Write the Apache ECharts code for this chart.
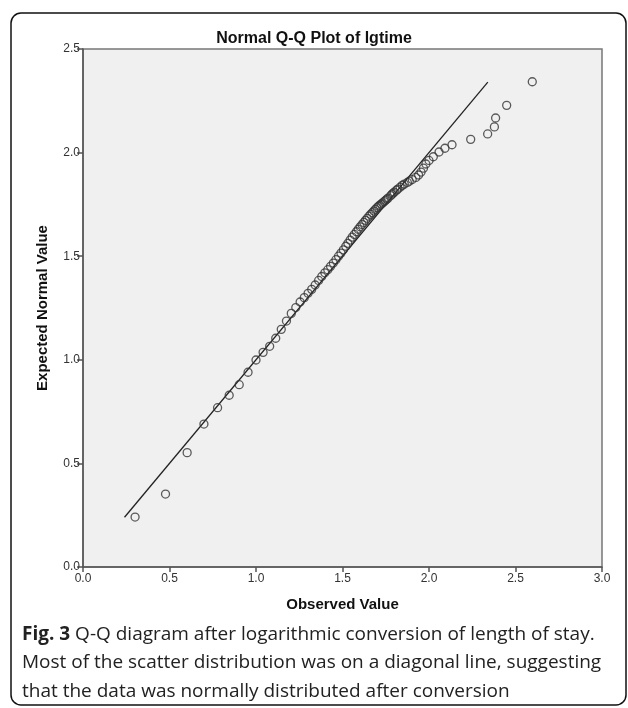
<!DOCTYPE html>
<html>
<head>
<meta charset="utf-8">
<script src="https://cdn.jsdelivr.net/npm/echarts@6/dist/echarts.min.js"></script>
<style>
  html, body { margin: 0; padding: 0; background: #fff; }
  #chart { width: 628px; height: 708px; }
</style>
</head>
<body>
<div id="chart"></div>
<script>
const observed = [
  0.301, 0.477, 0.602, 0.699, 0.778, 0.845, 0.903, 0.954, 1.000, 1.041,
  1.079, 1.114, 1.146, 1.176, 1.204, 1.230, 1.255, 1.279, 1.301, 1.322,
  1.342, 1.362, 1.380, 1.398, 1.415, 1.431, 1.447, 1.462, 1.477, 1.491,
  1.505, 1.519, 1.531, 1.544, 1.556, 1.568, 1.580, 1.591, 1.602, 1.613,
  1.623, 1.633, 1.643, 1.653, 1.663, 1.672, 1.681, 1.690, 1.699, 1.708,
  1.716, 1.724, 1.732, 1.740, 1.748, 1.756, 1.763, 1.778, 1.785, 1.792,
  1.799, 1.813, 1.820, 1.833, 1.845, 1.857, 1.875, 1.886, 1.903, 1.924,
  1.940, 1.954, 1.968, 1.982, 2.000, 2.025, 2.058, 2.092, 2.133, 2.241,
  2.339, 2.378, 2.385, 2.449, 2.597
];
// expected normal values for the points above
const expected = [
  0.241, 0.352, 0.552, 0.690, 0.769, 0.829, 0.880, 0.940, 0.999, 1.036,
  1.065, 1.104, 1.147, 1.187, 1.224, 1.252, 1.279, 1.300, 1.321, 1.340,
  1.361, 1.383, 1.402, 1.420, 1.435, 1.451, 1.467, 1.483, 1.500, 1.515,
  1.531, 1.548, 1.562, 1.578, 1.592, 1.605, 1.618, 1.630, 1.642, 1.653,
  1.663, 1.673, 1.683, 1.693, 1.702, 1.710, 1.718, 1.726, 1.734, 1.741,
  1.746, 1.752, 1.757, 1.763, 1.769, 1.775, 1.780, 1.792, 1.798, 1.804,
  1.809, 1.819, 1.824, 1.833, 1.842, 1.848, 1.856, 1.862, 1.870, 1.880,
  1.892, 1.906, 1.925, 1.945, 1.962, 1.980, 2.003, 2.021, 2.038, 2.064,
  2.090, 2.124, 2.167, 2.228, 2.342
];
// reference diagonal end points
const refLine = [[0.24, 0.24], [2.34, 2.34]];

const xTicks = ['0.0', '0.5', '1.0', '1.5', '2.0', '2.5', '3.0'];
const yTicks = ['0.0', '0.5', '1.0', '1.5', '2.0', '2.5'];

const points = observed.map((v, i) => [v, expected[i]]);

const chart = echarts.init(document.getElementById('chart'));

const option = {
  backgroundColor: '#fff',
  animation: false,
  title: {
    text: 'Normal Q-Q Plot of lgtime',
    left: 'center',
    top: 26,
    textStyle: { fontFamily: 'Liberation Sans', fontSize: 16, fontWeight: 'bold', color: '#111' }
  },
  grid: {
    left: 83, top: 49, width: 519, height: 518,
    show: true, backgroundColor: '#f0f0f0', borderColor: '#777', borderWidth: 1.5
  },
  xAxis: {
    type: 'value', min: 0, max: 3, interval: 0.5,
    name: 'Observed Value', nameLocation: 'middle', nameGap: 30,
    nameTextStyle: { fontFamily: 'Liberation Sans', fontSize: 15, fontWeight: 'bold', color: '#111' },
    axisLine: { lineStyle: { color: '#555', width: 1.5 } },
    axisTick: { length: 5, lineStyle: { color: '#555', width: 1.5 } },
    axisLabel: {
      margin: 6, color: '#333', fontFamily: 'Liberation Sans', fontSize: 12,
      showMinLabel: true, showMaxLabel: true,
      formatter: (v) => xTicks[Math.round(v / 0.5)]
    },
    splitLine: { show: false }
  },
  yAxis: {
    type: 'value', min: 0, max: 2.5, interval: 0.5,
    name: 'Expected Normal Value', nameLocation: 'middle', nameGap: 33,
    nameTextStyle: { fontFamily: 'Liberation Sans', fontSize: 15, fontWeight: 'bold', color: '#111' },
    axisLine: { show: true, lineStyle: { color: '#555', width: 1.5 } },
    axisTick: { show: true, length: 6, lineStyle: { color: '#555', width: 1.5 } },
    axisLabel: {
      margin: 3, color: '#333', fontFamily: 'Liberation Sans', fontSize: 12,
      showMinLabel: true, showMaxLabel: true,
      formatter: (v) => yTicks[Math.round(v / 0.5)]
    },
    splitLine: { show: false }
  },
  series: [
    {
      type: 'line',
      data: refLine,
      symbol: 'none',
      lineStyle: { color: '#222', width: 1.3 },
      z: 1
    },
    {
      type: 'scatter',
      data: points,
      symbol: 'circle',
      symbolSize: 8,
      itemStyle: { color: 'rgba(0,0,0,0)', borderColor: '#333', borderWidth: 1.3 },
      z: 2
    }
  ],
  graphic: [
    {
      type: 'rect',
      shape: { x: 11, y: 13, width: 615, height: 692, r: 10 },
      style: { fill: 'none', stroke: '#111', lineWidth: 1.5 },
      silent: true
    },
    {
      type: 'text',
      left: 22, top: 620,
      style: {
        text: '{b|Fig. 3} Q-Q diagram after logarithmic conversion of length of stay.\nMost of the scatter distribution was on a diagonal line, suggesting\nthat the data was normally distributed after conversion',
        fontFamily: 'Open Sans', fontSize: 19, lineHeight: 28.5, fill: '#222',
        rich: { b: { fontFamily: 'Open Sans', fontSize: 19, fontWeight: 'bold', fill: '#222' } }
      }
    }
  ]
};

chart.setOption(option);
</script>
</body>
</html>
